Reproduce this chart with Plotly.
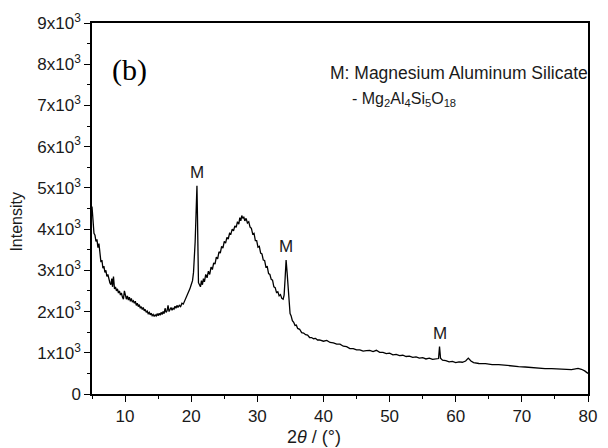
import plotly.graph_objects as go

two_theta = [
    5.0, 5.15, 5.3, 5.45, 5.6, 5.75, 5.9, 6.05, 6.2, 6.35, 6.5, 6.65, 6.8, 6.95, 7.1, 7.25, 7.4, 7.55, 7.7, 7.85,
    8.0, 8.1, 8.25, 8.4, 8.55, 8.7, 8.85, 9.0, 9.15, 9.3, 9.45, 9.6, 9.75, 9.9, 10.05, 10.2, 10.35, 10.5, 10.65, 10.8,
    10.95, 11.1, 11.25, 11.4, 11.55, 11.7, 11.85, 12.0, 12.15, 12.3, 12.45, 12.6, 12.75, 12.9, 13.05, 13.2, 13.35, 13.5,
    13.65, 13.8, 13.95, 14.1, 14.25, 14.4, 14.55, 14.7, 14.85, 15.0, 15.15, 15.3, 15.45, 15.6, 15.75, 15.9, 16.05, 16.2,
    16.35, 16.5, 16.65, 16.8, 16.95, 17.1, 17.25, 17.4, 17.55, 17.7, 17.85, 18.0, 18.2, 18.4, 18.6, 18.8, 19.0, 19.2,
    19.4, 19.6, 19.8, 20.0, 20.2, 20.35, 20.5, 20.6, 20.7, 20.8, 20.87, 20.95, 21.02, 21.1, 21.25, 21.4, 21.55, 21.7,
    21.85, 22.0, 22.2, 22.4, 22.6, 22.8, 23.0, 23.2, 23.4, 23.6, 23.8, 24.0, 24.2, 24.4, 24.6, 24.8, 25.0, 25.2, 25.4,
    25.6, 25.8, 26.0, 26.2, 26.4, 26.6, 26.8, 27.0, 27.2, 27.35, 27.5, 27.65, 27.8, 27.95, 28.1, 28.3, 28.5, 28.7, 28.9,
    29.1, 29.3, 29.5, 29.7, 29.9, 30.1, 30.3, 30.5, 30.7, 30.9, 31.1, 31.3, 31.5, 31.7, 31.9, 32.1, 32.3, 32.5, 32.7,
    32.9, 33.1, 33.3, 33.5, 33.7, 33.9, 34.05, 34.2, 34.35, 34.5, 34.65, 34.8, 34.95, 35.1, 35.3, 35.5, 35.7, 35.9,
    36.1, 36.4, 36.7, 37.0, 37.3, 37.6, 37.9, 38.2, 38.5, 38.8, 39.1, 39.4, 39.7, 40.0, 40.5, 41.0, 41.5, 42.0, 42.5,
    43.0, 43.5, 44.0, 44.5, 45.0, 45.5, 46.0, 46.5, 47.0, 47.5, 48.0, 48.5, 49.0, 49.5, 50.0, 50.5, 51.0, 51.5, 52.0,
    52.5, 53.0, 53.5, 54.0, 54.5, 55.0, 55.5, 56.0, 56.5, 57.0, 57.4, 57.55, 57.7, 58.0, 58.5, 59.0, 59.5, 60.0, 60.5,
    61.0, 61.5, 61.9, 62.3, 62.7, 63.5, 64.5, 65.5, 66.5, 67.5, 68.5, 69.5, 70.5, 71.5, 72.5, 73.5, 74.5, 75.5, 76.5,
    77.5, 78.5, 79.0, 79.5, 80.0,
]

intensity = [
    4550, 4300, 3900, 3850, 3700, 3750, 3550, 3650, 3350, 3200, 3250, 3050, 3100, 2950, 3000, 2850, 2900, 2750, 2700, 2650,
    2800, 2600, 2850, 2550, 2600, 2500, 2550, 2450, 2500, 2400, 2450, 2350, 2300, 2500, 2400, 2300, 2380, 2280, 2350, 2250,
    2320, 2230, 2260, 2200, 2250, 2150, 2200, 2120, 2170, 2080, 2120, 2050, 2100, 2020, 2050, 1980, 2010, 1950,
    1980, 1920, 1960, 1900, 1930, 1880, 1920, 1890, 1950, 1900, 1960, 1910, 1980, 1930, 2000, 1950, 2080, 1980,
    2020, 2150, 2000, 2050, 2100, 2030, 2080, 2060, 2130, 2080, 2150, 2100, 2150, 2120, 2200, 2180, 2250, 2300,
    2380, 2450, 2550, 2650, 2750, 2950, 3300, 3700, 4200, 4800, 5050, 4300, 3200, 2700, 2650, 2600, 2750, 2650,
    2800, 2720, 2900, 2820, 2980, 2900, 3080, 3020, 3180, 3150, 3320, 3280, 3450, 3420, 3580, 3540, 3700, 3660, 3800,
    3760, 3900, 3880, 4000, 3960, 4080, 4040, 4180, 4120, 4280, 4200, 4330, 4260, 4300, 4200, 4260, 4150, 4180, 4050,
    4020, 3880, 3900, 3720, 3720, 3560, 3580, 3420, 3400, 3250, 3240, 3080, 3090, 2920, 2900, 2780, 2760, 2600, 2580,
    2460, 2480, 2380, 2410, 2320, 2300, 2400, 2800, 3250, 2950, 2600, 2200, 1950, 1900, 1780, 1740, 1660, 1670,
    1590, 1570, 1490, 1480, 1440, 1430, 1370, 1370, 1340, 1350, 1310, 1310, 1290, 1280, 1300, 1250, 1240, 1210, 1210,
    1160, 1150, 1100, 1100, 1070, 1070, 1040, 1050, 1060, 1030, 1060, 1010, 1010, 980, 990, 950, 960, 930, 940,
    910, 920, 890, 900, 870, 880, 850, 870, 840, 850, 860, 1150, 870, 820, 810, 780, 790, 760, 780,
    770, 800, 870, 800, 760, 740, 735, 715, 715, 695, 690, 665, 655, 640, 635, 615, 615, 605, 600,
    590, 620, 600, 560, 500,
]

peak_labels = ["M", "M", "M"]
peak_x = [20.87, 34.35, 57.55]
peak_y = [5050, 3250, 1150]

y_tick_vals = [0, 1000, 2000, 3000, 4000, 5000, 6000, 7000, 8000, 9000]
y_tick_text = ["0"] + [f"{i}x10<sup>3</sup>" for i in range(1, 10)]
x_tick_vals = [10, 20, 30, 40, 50, 60, 70, 80]

FONT = "Liberation Sans, Arial, sans-serif"
TXT = "#1a1a1a"

fig = go.Figure()
fig.add_trace(go.Scatter(x=two_theta, y=intensity, mode="lines",
                         line=dict(color="black", width=1.3), showlegend=False, hoverinfo="skip"))

for lab, px, py in zip(peak_labels, peak_x, peak_y):
    fig.add_annotation(x=px, y=py, text=lab, showarrow=False, xanchor="center", yanchor="bottom", yshift=2,
                       font=dict(family=FONT, size=17, color=TXT))

fig.add_annotation(xref="paper", yref="paper", x=0.075, y=0.925, xanchor="center", text="(b)", showarrow=False,
                   font=dict(family="Liberation Serif, Times New Roman, serif", size=30, color="black"))
fig.add_annotation(xref="paper", yref="paper", x=1.005, y=0.865, xanchor="right", yanchor="middle",
                   text="M: Magnesium Aluminum Silicate", showarrow=False,
                   font=dict(family=FONT, size=17.5, color=TXT))
fig.add_annotation(xref="paper", yref="paper", x=0.521, y=0.795, xanchor="left", yanchor="middle",
                   text="- Mg<sub>2</sub>Al<sub>4</sub>Si<sub>5</sub>O<sub>18</sub>", showarrow=False,
                   font=dict(family=FONT, size=16, color=TXT))
fig.add_annotation(xref="paper", yref="paper", x=-0.153, y=0.465, xanchor="center", yanchor="middle",
                   text="Intensity", textangle=-90,
                   showarrow=False, font=dict(family=FONT, size=16, color=TXT))
fig.add_annotation(xref="paper", yref="paper", x=0.448, y=-0.115, xanchor="center", yanchor="middle",
                   text="2<i>θ</i> / (°)", showarrow=False, font=dict(family=FONT, size=18, color=TXT))

fig.update_xaxes(range=[5, 80], tickvals=x_tick_vals, ticks="outside", ticklen=6, tickwidth=1.3,
                 tickcolor="black", showline=True, linecolor="black", linewidth=1.5, mirror=True,
                 showgrid=False, zeroline=False,
                 minor=dict(dtick=5, tick0=5, ticks="outside", ticklen=3.5, tickwidth=1.2, tickcolor="black"),
                 tickfont=dict(family=FONT, size=17, color=TXT))
fig.update_yaxes(range=[0, 9000], tickvals=y_tick_vals, ticktext=y_tick_text, ticks="outside", ticklen=6,
                 tickwidth=1.3, tickcolor="black", showline=True, linecolor="black", linewidth=1.5, mirror=True,
                 showgrid=False, zeroline=False,
                 minor=dict(dtick=500, tick0=0, ticks="outside", ticklen=3.5, tickwidth=1.2, tickcolor="black"),
                 tickfont=dict(family=FONT, size=17, color=TXT))

fig.update_layout(width=608, height=448, margin=dict(l=92, r=11, t=18, b=54),
                  plot_bgcolor="white", paper_bgcolor="white")

fig.write_html("out.html", config={"displayModeBar": False},
               post_script="document.body.style.margin='0';")
